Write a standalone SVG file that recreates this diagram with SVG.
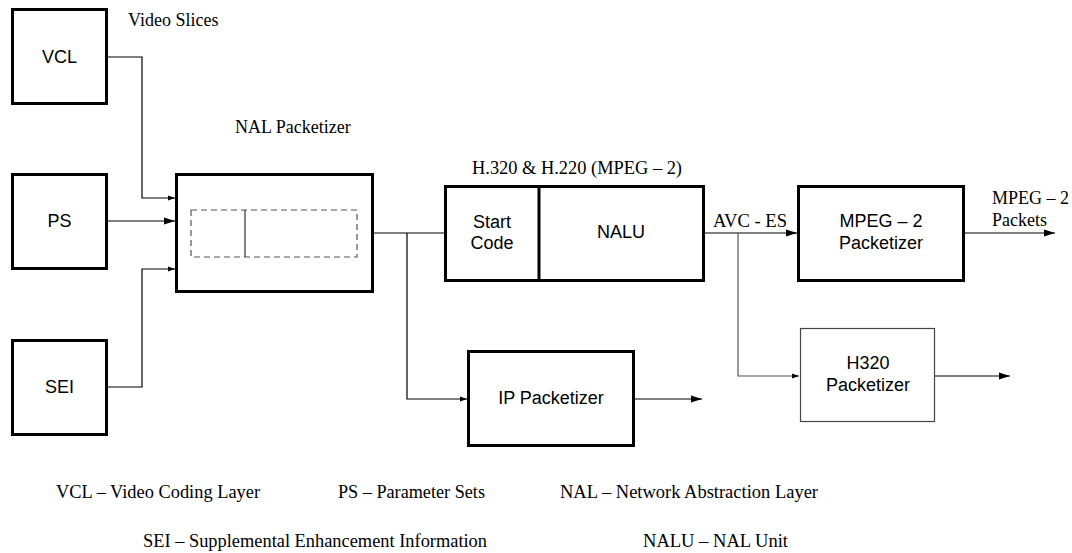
<svg xmlns="http://www.w3.org/2000/svg" width="1072" height="553" viewBox="0 0 1072 553">
<style>
.box{fill:#fff;stroke:#000;stroke-width:3}
.thin{fill:#fff;stroke:#444;stroke-width:1.2}
.sans{font-family:"Liberation Sans",Arial,sans-serif;font-size:18px;fill:#000;text-anchor:middle}
.serif{font-family:"Liberation Serif","Times New Roman",serif;font-size:18px;fill:#000}
.ln{fill:none;stroke:#000;stroke-width:1.2}
.ln2{fill:none;stroke:#555;stroke-width:1.2}
</style>
<defs>
<marker id="big" markerUnits="userSpaceOnUse" markerWidth="12" markerHeight="8" refX="11" refY="4" orient="auto"><path d="M0,0.5 L11,4 L0,7.5 z" fill="#000"/></marker>
<marker id="small" markerUnits="userSpaceOnUse" markerWidth="8" markerHeight="6" refX="7" refY="3" orient="auto"><path d="M0,0.5 L7,3 L0,5.5 z" fill="#000"/></marker>
</defs>
<g id="connectors">
<path class="ln" d="M106,57 H142 V198 H175" marker-end="url(#small)"/>
<path class="ln" d="M106,221 H175" marker-end="url(#big)"/>
<path class="ln" d="M106,387 H142 V269 H175" marker-end="url(#small)"/>
<path class="ln" d="M373,233 H445"/>
<path class="ln" d="M407,233 V399 H467" marker-end="url(#small)"/>
<path class="ln" d="M634,399 H702" marker-end="url(#big)"/>
<path class="ln" d="M704,233 H797" marker-end="url(#big)"/>
<path class="ln2" d="M738,233 V376 H799" marker-end="url(#small)"/>
<path class="ln" d="M964,233 H1055" marker-end="url(#big)"/>
<path class="ln" d="M935,376 H1010" marker-end="url(#big)"/>
</g>
<g id="vcl"><rect class="box" x="12.5" y="9.5" width="94" height="94"/><text class="sans" x="59.5" y="63">VCL</text></g>
<g id="ps"><rect class="box" x="12.5" y="174.5" width="94" height="94"/><text class="sans" x="59.5" y="227">PS</text></g>
<g id="sei"><rect class="box" x="12.5" y="340.5" width="94" height="94"/><text class="sans" x="59.5" y="393">SEI</text></g>
<g id="nal">
<rect class="box" x="176.5" y="174.5" width="196" height="117"/>
<rect x="191" y="210" width="166" height="47" fill="none" stroke="#555" stroke-width="1.2" stroke-dasharray="6,4"/>
<line x1="245" y1="210" x2="245" y2="257" stroke="#333" stroke-width="1.2"/>
</g>
<g id="nalu">
<rect class="box" x="445.5" y="186.5" width="258" height="94"/>
<line x1="539" y1="186" x2="539" y2="281" stroke="#000" stroke-width="3"/>
<text class="sans" x="492" y="228">Start</text>
<text class="sans" x="492" y="249">Code</text>
<text class="sans" x="621" y="238">NALU</text>
</g>
<g id="mpeg2"><rect class="box" x="798.5" y="186.5" width="165" height="94"/><text class="sans" x="881" y="227">MPEG – 2</text><text class="sans" x="881" y="249">Packetizer</text></g>
<g id="h320"><rect class="thin" x="800.5" y="328.5" width="134" height="93"/><text class="sans" x="868" y="369">H320</text><text class="sans" x="868" y="391">Packetizer</text></g>
<g id="ip"><rect class="box" x="468.5" y="351.5" width="165" height="94"/><text class="sans" x="551" y="404">IP Packetizer</text></g>
<g id="labels">
<text class="serif" x="128" y="26">Video Slices</text>
<text class="serif" x="235" y="133">NAL Packetizer</text>
<text class="serif" x="472" y="174" textLength="210" lengthAdjust="spacingAndGlyphs">H.320 &amp; H.220 (MPEG – 2)</text>
<text class="serif" x="713" y="227" textLength="74" lengthAdjust="spacingAndGlyphs">AVC - ES</text>
<text class="serif" x="992" y="204">MPEG – 2</text>
<text class="serif" x="992" y="226">Packets</text>
<text class="serif" x="56" y="498" textLength="204" lengthAdjust="spacingAndGlyphs">VCL – Video Coding Layer</text>
<text class="serif" x="338" y="498" textLength="147" lengthAdjust="spacingAndGlyphs">PS – Parameter Sets</text>
<text class="serif" x="560" y="498" textLength="258" lengthAdjust="spacingAndGlyphs">NAL – Network Abstraction Layer</text>
<text class="serif" x="143" y="547" textLength="344" lengthAdjust="spacingAndGlyphs">SEI – Supplemental Enhancement Information</text>
<text class="serif" x="643" y="547" textLength="145" lengthAdjust="spacingAndGlyphs">NALU – NAL Unit</text>
</g>
</svg>
